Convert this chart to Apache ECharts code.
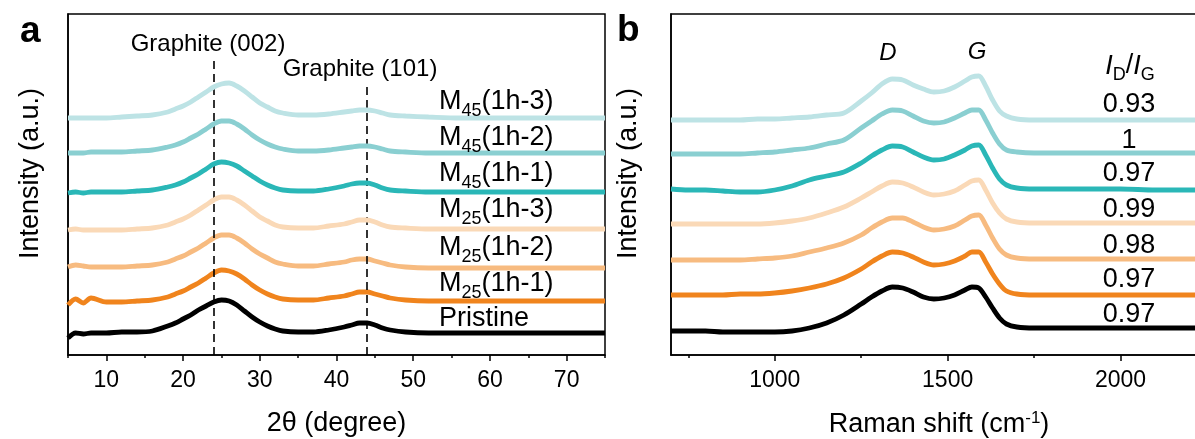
<!DOCTYPE html>
<html><head><meta charset="utf-8">
<script src="https://cdn.jsdelivr.net/npm/echarts@6/dist/echarts.min.js"></script>
<style>html,body{margin:0;padding:0;background:#fff}#c{width:1195px;height:439px}</style>
</head><body><div id="c"></div>
<script>
const FONT = '"Liberation Sans", Arial, sans-serif';

// ---- Panel a: XRD ----
const xrdAngle = [5,6,7,8,10,12,14,16,18,19,20,21,22,23,24,25,26,27,28,29,30,31,32,33,35,37,39,41,42,43,44,45,46,47,49,52,56,60,65,70,75];
const xrdPristine = [17,22,21,22,22,23,23,24,29,32,36,40,45,49,53,55,54,50,44,38,33,29,26,24,23,23,25,28,30,32,32,30,27,25,23,22,22,22,22,22,22];
const xrdM25_1 = [50,56,52,57,53,53,54,55,58,61,64,68,72,77,82,85,84,81,76,70,65,61,58,56,55,55,57,59,61,63,63,61,59,57,55,54,54,54,54,54,54];
const xrdM25_2 = [88,90,89,88,88,88,89,90,93,96,99,103,107,112,117,120,120,117,112,106,101,97,93,91,89,89,91,93,95,96,96,94,92,90,88,87,87,87,87,87,87];
const xrdM25_3 = [125,126,125,125,125,125,126,127,130,133,136,140,145,150,155,158,158,155,150,144,138,134,130,128,127,127,129,131,133,135,135,133,130,128,127,126,126,126,126,126,126];
const xrdM45_1 = [162,163,162,163,163,163,164,165,168,170,173,177,181,186,191,193,192,189,184,179,174,170,167,165,164,164,166,169,171,172,172,170,167,165,164,163,163,163,163,163,163];
const xrdM45_2 = [202,202,202,203,203,203,204,205,208,210,213,217,221,226,231,234,234,231,226,220,215,211,208,206,204,204,205,207,208,209,209,208,206,204,203,202,202,202,202,202,202];
const xrdM45_3 = [237,237,237,237,237,238,239,240,243,246,249,253,258,263,268,271,272,269,264,258,252,248,244,242,240,240,241,243,244,245,245,244,242,240,239,238,237,237,237,237,237];
const xrdTicks = [10,20,30,40,50,60,70];
const xrdMinorTicks = [5,15,25,35,45,55,65,75];
const refPeaks = [24, 44];
const refPeakTops = [297, 270];
const refPeakNames = ['Graphite (002)', 'Graphite (101)'];

// ---- Panel b: Raman ----
const ramanShift = [700,750,800,850,900,950,1000,1050,1100,1150,1200,1250,1280,1310,1340,1370,1400,1430,1460,1490,1520,1550,1570,1590,1610,1630,1650,1670,1700,1750,1800,1900,2000,2100,2250];
const ramanPristine = [24,24,24,23,23,23,23,24,27,32,40,51,58,64,68,67,63,58,56,57,60,65,68,67,58,47,37,31,28,27,27,27,27,27,27];
const ramanM25_1 = [60,60,60,60,61,61,62,64,67,71,77,86,93,99,103,102,98,93,90,91,94,99,103,103,93,81,71,64,61,60,60,60,60,60,60];
const ramanM25_2 = [95,95,95,95,95,96,97,99,103,107,112,120,127,133,137,137,133,128,125,126,129,135,139,140,130,117,106,100,97,96,96,96,96,96,96];
const ramanM25_3 = [131,131,131,131,131,131,132,134,137,142,148,157,163,169,173,172,168,163,160,161,164,170,174,175,165,152,142,136,133,132,132,132,132,132,132];
const ramanM45_1 = [166,165,165,164,163,163,165,169,175,179,183,192,199,205,209,208,203,198,195,196,200,205,209,210,200,187,176,170,167,166,166,166,166,165,165];
const ramanM45_2 = [201,201,201,201,201,202,203,205,207,211,215,227,234,241,245,244,239,234,232,233,237,242,245,245,235,222,211,205,203,202,202,202,202,202,202];
const ramanM45_3 = [235,235,235,235,235,236,236,237,238,240,242,254,262,271,276,275,270,266,263,264,268,274,278,279,269,255,244,239,236,235,235,235,235,235,235];
const ramanTicks = [1000,1500,2000];
const ramanMinorTicks = [750,1250,1750,2250];
const ramanBands = ['D', 'G'];
const idIgRatio = ['0.97','0.97','0.98','0.99','0.97','1','0.93'];

// samples, bottom to top: [main, subscript, rest]
const sampleNames = [['Pristine','',''],['M','25','(1h-1)'],['M','25','(1h-2)'],['M','25','(1h-3)'],['M','45','(1h-1)'],['M','45','(1h-2)'],['M','45','(1h-3)']];
const xrdSets = [xrdPristine,xrdM25_1,xrdM25_2,xrdM25_3,xrdM45_1,xrdM45_2,xrdM45_3];
const ramanSets = [ramanPristine,ramanM25_1,ramanM25_2,ramanM25_3,ramanM45_1,ramanM45_2,ramanM45_3];

// styles / layout
const palette = ['#000000','#f0841d','#f7bb80','#fad9b7','#2ab7b7','#8acfd1','#bde3e5'];
const labelCapY = [318,283,247,209,173,137,101];
const ratioCapY = [314,279,245,209,173,140,104];

const chart = echarts.init(document.getElementById('c'), null, {renderer:'canvas'});
const mctx = document.createElement('canvas').getContext('2d');
function textW(t, font){ mctx.font = font; return mctx.measureText(t).width; }

function pairs(xs, ys){ return xs.map((x,i)=>[x, ys[i]]); }

const series = [];
xrdSets.forEach((ys,i)=>{
  series.push({type:'line', name:sampleNames[i].join('')+' XRD', xAxisIndex:0, yAxisIndex:0, data:pairs(xrdAngle, ys),
    showSymbol:false, smooth:0.3, lineStyle:{color:palette[i], width:4.8}, z:2+i});
});
series.push({type:'line', xAxisIndex:0, yAxisIndex:0, data:[], z:20,
  markLine:{silent:true, symbol:'none', label:{show:false},
    lineStyle:{color:'#000', width:1.6, type:[8,5]},
    data: refPeaks.map((p,i)=>[{coord:[p,0]},{coord:[p,refPeakTops[i]]}])}});
ramanSets.forEach((ys,i)=>{
  series.push({type:'line', name:sampleNames[i].join('')+' Raman', xAxisIndex:2, yAxisIndex:1, data:pairs(ramanShift, ys),
    showSymbol:false, smooth:0.3, lineStyle:{color:palette[i], width:4.8}, z:2+i});
});

function axisCommon(){
  return {axisLine:{show:true, lineStyle:{color:'#000', width:1.5}}, splitLine:{show:false}};
}

const graphics = [];
const txt = (x,y,text,extra)=>({type:'text', x:x, y:y, z:50, style:Object.assign({text:text, fill:'#000', font:'27px '+FONT, textAlign:'left', textVerticalAlign:'middle'}, extra||{})});

// parts: [{t, sub, italic}] drawn left to right, main cap centre at capY
function compound(x, capY, parts, align){
  const fonts = parts.map(p => (p.italic ? 'italic ' : '') + (p.sub ? '18px ' : '27px ') + FONT);
  const ws = parts.map((p,i)=>textW(p.t, fonts[i]));
  const total = ws.reduce((a,b)=>a+b,0);
  let cx = align === 'center' ? x - total/2 : x;
  parts.forEach((p,i)=>{
    if (p.t) graphics.push(txt(cx, capY + (p.sub ? 10 : 1), p.t, {font:fonts[i]}));
    cx += ws[i];
  });
}

// panel letters
graphics.push(txt(20,32,'a',{font:'bold 37px '+FONT}));
graphics.push(txt(617,31,'b',{font:'bold 37px '+FONT}));
// reference peak labels
graphics.push(txt(208,44,refPeakNames[0],{font:'24px '+FONT, textAlign:'center'}));
graphics.push(txt(360,69,refPeakNames[1],{font:'24px '+FONT, textAlign:'center'}));
// band labels
graphics.push(txt(888,53,ramanBands[0],{font:'italic 24px '+FONT, textAlign:'center'}));
graphics.push(txt(977,52,ramanBands[1],{font:'italic 24px '+FONT, textAlign:'center'}));
// sample labels
sampleNames.forEach((nm,i)=>{
  compound(439, labelCapY[i], [{t:nm[0]},{t:nm[1],sub:true},{t:nm[2]}], 'left');
});
compound(1130, 65, [{t:'I',italic:true},{t:'D',sub:true},{t:'/'},{t:'I',italic:true},{t:'G',sub:true}], 'center');
idIgRatio.forEach((r,i)=>{
  graphics.push(txt(1129, ratioCapY[i]+1, r, {textAlign:'center'}));
});

const option = {
  animation:false,
  backgroundColor:'#fff',
  grid:[
    {left:68, top:14, width:537, height:341, show:true, borderColor:'#000', borderWidth:1.5, backgroundColor:'transparent', outerBoundsMode:'none', containLabel:false},
    {left:671, top:14, width:536, height:341, show:true, borderColor:'#000', borderWidth:1.5, backgroundColor:'transparent', outerBoundsMode:'none', containLabel:false}
  ],
  xAxis:[
    Object.assign(axisCommon(), {gridIndex:0, type:'value', position:'bottom', min:5, max:75,
      axisTick:{show:true, customValues:xrdTicks, length:6, lineStyle:{color:'#000', width:1.5}},
      axisLabel:{customValues:xrdTicks, fontSize:23, fontFamily:FONT, color:'#000', margin:14, formatter:v=>String(v)},
      name:'2θ (degree)', nameLocation:'middle', nameGap:55,
      nameTextStyle:{fontSize:27, fontFamily:FONT, color:'#000'}}),
    {gridIndex:0, type:'value', position:'bottom', min:5, max:75, axisLine:{show:false}, splitLine:{show:false},
      axisTick:{show:true, customValues:xrdMinorTicks, length:3, lineStyle:{color:'#000', width:1.5}},
      axisLabel:{show:false}},
    Object.assign(axisCommon(), {gridIndex:1, type:'value', position:'bottom', min:700, max:2250,
      axisTick:{show:true, customValues:ramanTicks, length:6, lineStyle:{color:'#000', width:1.5}},
      axisLabel:{customValues:ramanTicks, fontSize:23, fontFamily:FONT, color:'#000', margin:14, formatter:v=>String(v)},
      name:'Raman shift (cm{sup|-1})', nameLocation:'middle', nameGap:55,
      nameTextStyle:{fontSize:27, fontFamily:FONT, color:'#000', lineHeight:30,
        rich:{sup:{fontSize:17, fontFamily:FONT, color:'#000', lineHeight:12, verticalAlign:'top'}}}}),
    {gridIndex:1, type:'value', position:'bottom', min:700, max:2250, axisLine:{show:false}, splitLine:{show:false},
      axisTick:{show:true, customValues:ramanMinorTicks, length:3, lineStyle:{color:'#000', width:1.5}},
      axisLabel:{show:false}}
  ],
  yAxis:[
    Object.assign(axisCommon(), {gridIndex:0, type:'value', min:0, max:341, axisTick:{show:false}, axisLabel:{show:false},
      name:'Intensity (a.u.)', nameLocation:'middle', nameGap:24,
      nameTextStyle:{fontSize:27, fontFamily:FONT, color:'#000', padding:[0,0,0,22]}}),
    Object.assign(axisCommon(), {gridIndex:1, type:'value', min:0, max:341, axisTick:{show:false}, axisLabel:{show:false},
      name:'Intensity (a.u.)', nameLocation:'middle', nameGap:29,
      nameTextStyle:{fontSize:27, fontFamily:FONT, color:'#000', padding:[0,0,0,22]}})
  ],
  series:series,
  graphic:{elements:graphics}
};
chart.setOption(option);
</script></body></html>
